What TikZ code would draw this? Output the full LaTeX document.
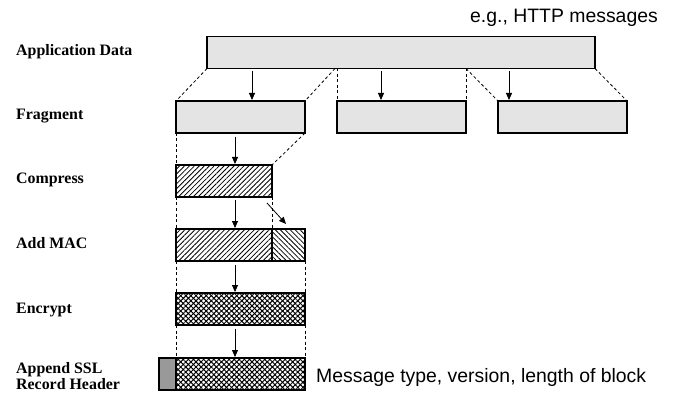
\documentclass[tikz,border=0pt]{standalone}
\usepackage{fontspec}
\setmainfont{Liberation Serif}
\newfontfamily\arialfont{Liberation Sans}
\usetikzlibrary{calc,patterns.meta,arrows.meta}
\definecolor{boxgrey}{HTML}{E4E4E4}
\definecolor{hdrgrey}{HTML}{999999}
\tikzset{
  blk/.style={draw=black, line width=1.4pt, minimum height=32pt, inner sep=0pt, outer sep=0pt},
  plainblk/.style={blk, fill=boxgrey},
  hatchR/.style={blk, pattern={Lines[angle=45,distance=3.5pt,line width=0.8pt]}},
  hatchL/.style={blk, pattern={Lines[angle=-45,distance=3.5pt,line width=0.8pt]}},
  xhatch/.style={blk, pattern={Lines[angle=45,distance=3.6pt,line width=1pt]},
    postaction={pattern={Lines[angle=-45,distance=3.6pt,line width=1pt]}}},
  hdr/.style={blk, fill=hdrgrey},
  dsh/.style={line width=0.8pt, dash pattern=on 3pt off 2.5pt},
  arr/.style={line width=0.8pt, -{Triangle[length=7pt,width=6pt]}},
  lbl/.style={font=\fontsize{15.9}{16}\selectfont\bfseries, anchor=base west, inner sep=0pt},
  note/.style={font=\fontsize{19.4}{20}\selectfont\arialfont, anchor=base west, inner sep=0pt},
}
\begin{document}
\begin{tikzpicture}[x=1pt,y=-1pt]
\useasboundingbox (0,0) rectangle (676,395);
% labels
\node[lbl] (lapp) at (16,56) {Application Data};
\node[lbl] (lfrag) at (16,120) {Fragment};
\node[lbl] (lcomp) at (16,184) {Compress};
\node[lbl] (lmac) at (16,248) {Add MAC};
\node[lbl] (lenc) at (16,313) {Encrypt};
\node[lbl] (lapp1) at (16,373) {Append SSL};
\node[lbl] (lapp2) at (16,389) {Record Header};
\node[note] (ntop) at (470,23) {e.g., HTTP messages};
\node[note] (nbot) at (316,382) {Message type, version, length of block};
% blocks
\node[plainblk, minimum width=388pt] (app) at (401,52.5) {};
\node[plainblk, minimum width=129pt] (f1) at (240.5,117) {};
\node[plainblk, minimum width=129pt] (f2) at (401.5,117) {};
\node[plainblk, minimum width=129pt] (f3) at (562.5,117) {};
\node[hatchR, minimum width=96pt] (comp) at (224,181) {};
\node[hatchR, minimum width=96pt] (md) at (224,245) {};
\node[hatchL, minimum width=33pt] (mac) at (288.5,245) {};
\node[xhatch, minimum width=129pt] (enc) at (240.5,309) {};
\node[xhatch, minimum width=129pt] (rec) at (240.5,374) {};
\node[hdr, minimum width=17pt] (hd) at (167.5,374) {};
% split points
\coordinate (s1) at ($(f2.north west |- app.south)+(-2,0)$);
\coordinate (s2) at (f2.north east |- app.south);
% dashed guide lines
\draw[dsh] (app.south west) -- (f1.north west);
\draw[dsh] (s1) -- (f1.north east);
\draw[dsh] (f2.north west |- app.south) -- (f2.north west);
\draw[dsh] (s2) -- (f2.north east);
\draw[dsh] (s2) -- (f3.north west);
\draw[dsh] (app.south east) -- (f3.north east);
\draw[dsh] (f1.south west) -- (comp.north west);
\draw[dsh] (f1.south east) -- (comp.north east);
\draw[dsh] (comp.south west) -- (md.north west);
\draw[dsh] (comp.south east) -- (md.north east);
\draw[dsh] (md.south west) -- (enc.north west);
\draw[dsh] (mac.south east) -- (enc.north east);
\draw[dsh] (enc.south west) -- (rec.north west);
\draw[dsh] (enc.south east) -- (rec.north east);
% arrows
\coordinate (xa) at (252,0);
\coordinate (xb) at (381,0);
\coordinate (xc) at (509,0);
\coordinate (xd) at (235,0);
\draw[arr] ($(app.south -| xa)+(0,3)$) -- ($(f1.north -| xa)+(0,-1)$);
\draw[arr] ($(app.south -| xb)+(0,3)$) -- ($(f2.north -| xb)+(0,-1)$);
\draw[arr] ($(app.south -| xc)+(0,3)$) -- ($(f3.north -| xc)+(0,-1)$);
\draw[arr] ($(f1.south -| xd)+(0,4)$) -- ($(comp.north -| xd)+(0,-1)$);
\draw[arr] ($(comp.south -| xd)+(0,3)$) -- ($(md.north -| xd)+(0,-1)$);
\draw[arr] ($(comp.south east)+(-5,6)$) -- ($(mac.north)+(-2.5,-5)$);
\draw[arr] ($(md.south -| xd)+(0,4)$) -- ($(enc.north -| xd)+(0,-1)$);
\draw[arr] ($(enc.south -| xd)+(0,4)$) -- ($(rec.north -| xd)+(0,-1)$);
\end{tikzpicture}
\end{document}
